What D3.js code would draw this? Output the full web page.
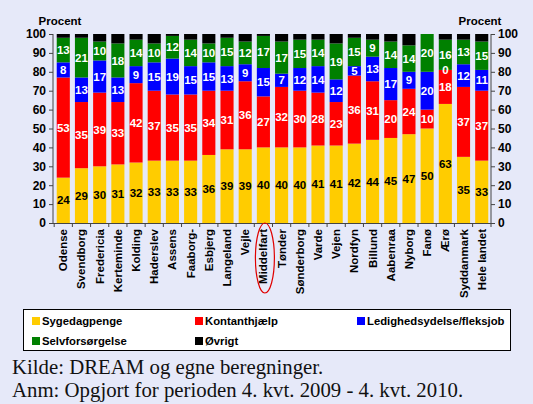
<!DOCTYPE html>
<html>
<head>
<meta charset="utf-8">
<script src="https://cdn.jsdelivr.net/npm/d3@7"></script>
<style>
  body { margin: 0; background: #e6e9f9; }
  svg { display: block; }
</style>
</head>
<body>
<svg width="533" height="404"></svg>
<script>
let kommuner = ["Odense", "Svendborg", "Fredericia", "Kerteminde", "Kolding", "Haderslev",
  "Assens", "Faaborg-", "Esbjerg", "Langeland", "Vejle", "Middelfart", "Tønder",
  "Sønderborg", "Varde", "Vejen", "Nordfyn", "Billund", "Aabenraa", "Nyborg",
  "Fanø", "Ærø", "Syddanmark", "Hele landet"];

let sygedagpenge =    [24, 29, 30, 31, 32, 33, 33, 33, 36, 39, 39, 40, 40, 40, 41, 41, 42, 44, 45, 47, 50, 63, 35, 33];
let kontanthjaelp =   [53, 35, 39, 33, 42, 37, 35, 35, 34, 31, 36, 27, 32, 30, 28, 23, 36, 31, 20, 24, 10, 18, 37, 37];
let ledighed =        [8, 13, 17, 13, 9, 15, 19, 15, 15, 13, 9, 15, 7, 12, 14, 12, 5, 13, 17, 9, 20, 0, 12, 11];
let selvforsorgelse = [13, 21, 10, 18, 14, 10, 12, 14, 10, 15, 12, 17, 17, 15, 14, 19, 15, 9, 14, 14, 20, 16, 13, 15];
let ovrigt =          [2, 2, 4, 5, 3, 5, 1, 3, 5, 2, 4, 1, 4, 3, 3, 5, 2, 3, 4, 6, 0, 3, 3, 4];

let serier = [
  {key: "syg", label: "Sygedagpenge", color: "#ffcc00", text: "#000", values: sygedagpenge},
  {key: "kont", label: "Kontanthjælp", color: "#ff0000", text: "#fff", values: kontanthjaelp},
  {key: "led", label: "Ledighedsydelse/fleksjob", color: "#0000ff", text: "#fff", values: ledighed},
  {key: "selv", label: "Selvforsørgelse", color: "#008000", text: "#fff", values: selvforsorgelse},
  {key: "ovr", label: "Øvrigt", color: "#000000", text: null, values: ovrigt}
];

let yTicks = [0, 10, 20, 30, 40, 50, 60, 70, 80, 90, 100];

window.onload = function() {
  let svg = d3.select("svg");
  let left = 54, right = 491, top = 34, bottom = 223;
  let sans = "Arial, 'Liberation Sans', sans-serif";

  let rows = kommuner.map((k, i) => {
    let r = {name: k};
    serier.forEach(s => r[s.key] = s.values[i]);
    return r;
  });

  let x = d3.scaleBand().domain(kommuner).range([left, right]).paddingInner(0.28).paddingOuter(0.15);
  let y = d3.scaleLinear().domain([0, 100]).range([bottom, top]);

  let layers = d3.stack().keys(serier.map(s => s.key))(rows);

  let g = svg.append("g");
  layers.forEach((layer, li) => {
    let s = serier[li];
    g.selectAll(".bar-" + s.key)
      .data(layer)
      .enter().append("rect")
      .attr("x", d => x(d.data.name))
      .attr("width", x.bandwidth())
      .attr("y", d => y(Math.min(d[1], 100)))
      .attr("height", d => Math.max(0, y(d[0]) - y(Math.min(d[1], 100))))
      .attr("fill", s.color);
  });

  // tal i felterne
  layers.forEach((layer, li) => {
    let s = serier[li];
    if (!s.text) return;
    g.selectAll(".lbl-" + s.key)
      .data(layer)
      .enter().append("text")
      .attr("x", d => x(d.data.name) + x.bandwidth() / 2)
      .attr("y", d => y((d[0] + d[1]) / 2))
      .attr("dy", "0.36em")
      .attr("text-anchor", "middle")
      .style("font-family", sans)
      .style("font-size", "11.5px")
      .style("font-weight", "bold")
      .attr("fill", s.text)
      .text(d => d[1] - d[0]);
  });

  let axisFont = sel => sel.selectAll("text")
    .style("font-family", sans)
    .style("font-size", "12px")
    .style("font-weight", "bold")
    .attr("fill", "#000");

  let yl = svg.append("g").attr("transform", `translate(${left - 1},0)`)
    .call(d3.axisLeft(y).tickValues(yTicks).tickSize(4).tickPadding(3))
    .call(axisFont);
  let yr = svg.append("g").attr("transform", `translate(${right},0)`)
    .call(d3.axisRight(y).tickValues(yTicks).tickSize(4).tickPadding(3))
    .call(axisFont);
  [yl, yr].forEach(a => {
    a.select(".domain").attr("stroke", "#444").attr("d", `M0,${top}V${bottom}`);
    a.selectAll(".tick line").attr("stroke", "#444");
  });

  // x-akse med streger mellem søjlerne
  let xa = svg.append("g");
  xa.append("line").attr("x1", left - 1).attr("x2", right).attr("y1", bottom + 0.5).attr("y2", bottom + 0.5)
    .attr("stroke", "#444");
  let step = x.step();
  let bounds = kommuner.map(k => x(k) - step * x.paddingInner() / 2).concat([right]);
  xa.selectAll(".xt").data(bounds).enter().append("line")
    .attr("x1", d => d).attr("x2", d => d)
    .attr("y1", bottom).attr("y2", bottom + 4)
    .attr("stroke", "#444");

  xa.selectAll(".xl").data(kommuner).enter().append("text")
    .attr("transform", d => `translate(${x(d) + x.bandwidth() / 2 + 4},${bottom + 6}) rotate(-90)`)
    .attr("text-anchor", "end")
    .style("font-family", sans)
    .style("font-size", "11.5px")
    .style("font-weight", "bold")
    .text(d => d);

  // rød ring om Middelfart
  svg.append("ellipse")
    .attr("cx", x("Middelfart") + x.bandwidth() / 2 + 1.5)
    .attr("cy", 258)
    .attr("rx", 9.5).attr("ry", 35)
    .attr("fill", "none").attr("stroke", "#e00000").attr("stroke-width", 1.2);

  svg.selectAll(".proc").data([left + 6, right - 11]).enter().append("text")
    .attr("x", d => d).attr("y", 25)
    .attr("text-anchor", "middle")
    .style("font-family", sans)
    .style("font-size", "11.5px")
    .style("font-weight", "bold")
    .text("Procent");

  // forklaring
  let lg = svg.append("g");
  lg.append("rect").attr("x", 23.5).attr("y", 309.5).attr("width", 487).attr("height", 41)
    .attr("fill", "#fff").attr("stroke", "#000");
  let cols = [32, 195, 357];
  serier.forEach((s, i) => {
    let cx = cols[i % 3], cy = i < 3 ? 321 : 341;
    lg.append("rect").attr("x", cx).attr("y", cy - 4).attr("width", 8).attr("height", 8).attr("fill", s.color);
    lg.append("text").attr("x", cx + 10).attr("y", cy + 4)
      .style("font-family", sans)
      .style("font-size", "11.3px")
      .style("font-weight", "bold")
      .text(s.label);
  });

  let noter = ["Kilde: DREAM og egne beregninger.", "Anm: Opgjort for perioden 4. kvt. 2009 - 4. kvt. 2010."];
  svg.selectAll(".note").data(noter).enter().append("text")
    .attr("x", 12).attr("y", (d, i) => 374 + i * 23)
    .style("font-family", "'Liberation Serif', 'Times New Roman', serif")
    .style("font-size", "20.8px")
    .attr("fill", "#111")
    .text(d => d);
};
</script>
</body>
</html>
